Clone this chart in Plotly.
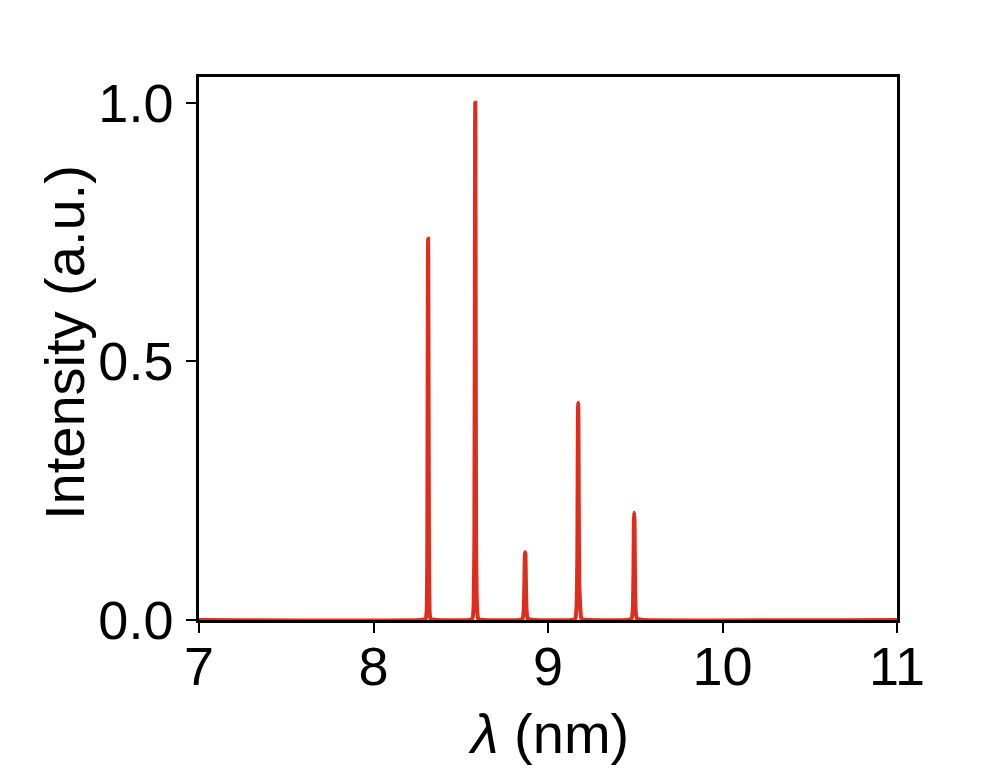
import plotly.graph_objects as go

# Spectrum: wavelength (nm) and normalised intensity
wavelength_nm = [
    7.00, 8.27,
    8.300, 8.305, 8.308, 8.310, 8.312, 8.313, 8.314, 8.316, 8.318, 8.321, 8.326,
    8.36, 8.55,
    8.568, 8.574, 8.578, 8.580, 8.582, 8.583, 8.584, 8.586, 8.588, 8.591, 8.596, 8.600,
    8.63, 8.84,
    8.855, 8.861, 8.865, 8.867, 8.869, 8.871, 8.873, 8.877, 8.883,
    8.92, 9.14,
    9.158, 9.164, 9.168, 9.170, 9.172, 9.173, 9.174, 9.176, 9.179, 9.183, 9.188, 9.194,
    9.23, 9.46,
    9.479, 9.486, 9.490, 9.492, 9.494, 9.496, 9.498, 9.502, 9.509,
    9.55, 11.00,
]
intensity_au = [
    0.0, 0.0,
    0.003, 0.02, 0.12, 0.40, 0.70, 0.737, 0.70, 0.40, 0.12, 0.02, 0.003,
    0.0, 0.0,
    0.004, 0.03, 0.15, 0.50, 0.95, 1.0, 0.95, 0.50, 0.15, 0.05, 0.01, 0.002,
    0.0, 0.0,
    0.003, 0.02, 0.08, 0.125, 0.131, 0.125, 0.08, 0.02, 0.003,
    0.0, 0.0,
    0.004, 0.03, 0.12, 0.30, 0.41, 0.42, 0.41, 0.25, 0.07, 0.04, 0.008, 0.001,
    0.0, 0.0,
    0.003, 0.02, 0.10, 0.19, 0.208, 0.19, 0.10, 0.02, 0.003,
    0.0, 0.0,
]

x_ticks = [7, 8, 9, 10, 11]
y_ticks = [0.0, 0.5, 1.0]
y_tick_labels = ["0.0", "0.5", "1.0"]
x_title = "<i>λ</i> (nm)"
y_title = "Intensity (a.u.)"

FONT = "Liberation Sans, Arial, sans-serif"

fig = go.Figure()
fig.add_trace(go.Scatter(
    x=wavelength_nm, y=intensity_au, mode="lines",
    line=dict(color="#df2c1d", width=4, shape="spline", smoothing=0.3),
    hoverinfo="skip", showlegend=False,
))

axis_common = dict(
    showgrid=False, zeroline=False, showline=True, linecolor="black",
    linewidth=2.5, mirror=True, ticks="outside", ticklen=10, tickwidth=2,
    tickcolor="black", tickfont=dict(family=FONT, size=54, color="black"),
    automargin=False,
)

fig.update_layout(
    width=997, height=775,
    margin=dict(l=199, r=100, t=77, b=155),
    paper_bgcolor="white", plot_bgcolor="white",
    xaxis=dict(range=[7, 11], tickvals=x_ticks, ticktext=[str(v) for v in x_ticks],
               ticklabelstandoff=-13, **axis_common),
    yaxis=dict(range=[0, 1.05], tickvals=y_ticks, ticktext=y_tick_labels,
               ticklabelstandoff=2, **axis_common),
    annotations=[
        dict(text=x_title, xref="paper", yref="paper", x=(548 - 199) / 698,
             y=(620 - 733) / 543, xanchor="center", yanchor="middle", showarrow=False,
             font=dict(family=FONT, size=56, color="black")),
        dict(text=y_title, xref="paper", yref="paper", x=(64 - 199) / 698,
             y=(620 - 343) / 543, xanchor="center", yanchor="middle", showarrow=False,
             textangle=-90, font=dict(family=FONT, size=56, color="black")),
    ],
)

fig.write_html(
    "out.html",
    config={"displayModeBar": False},
    post_script="document.body.style.margin='0';document.body.style.overflow='hidden';",
)
